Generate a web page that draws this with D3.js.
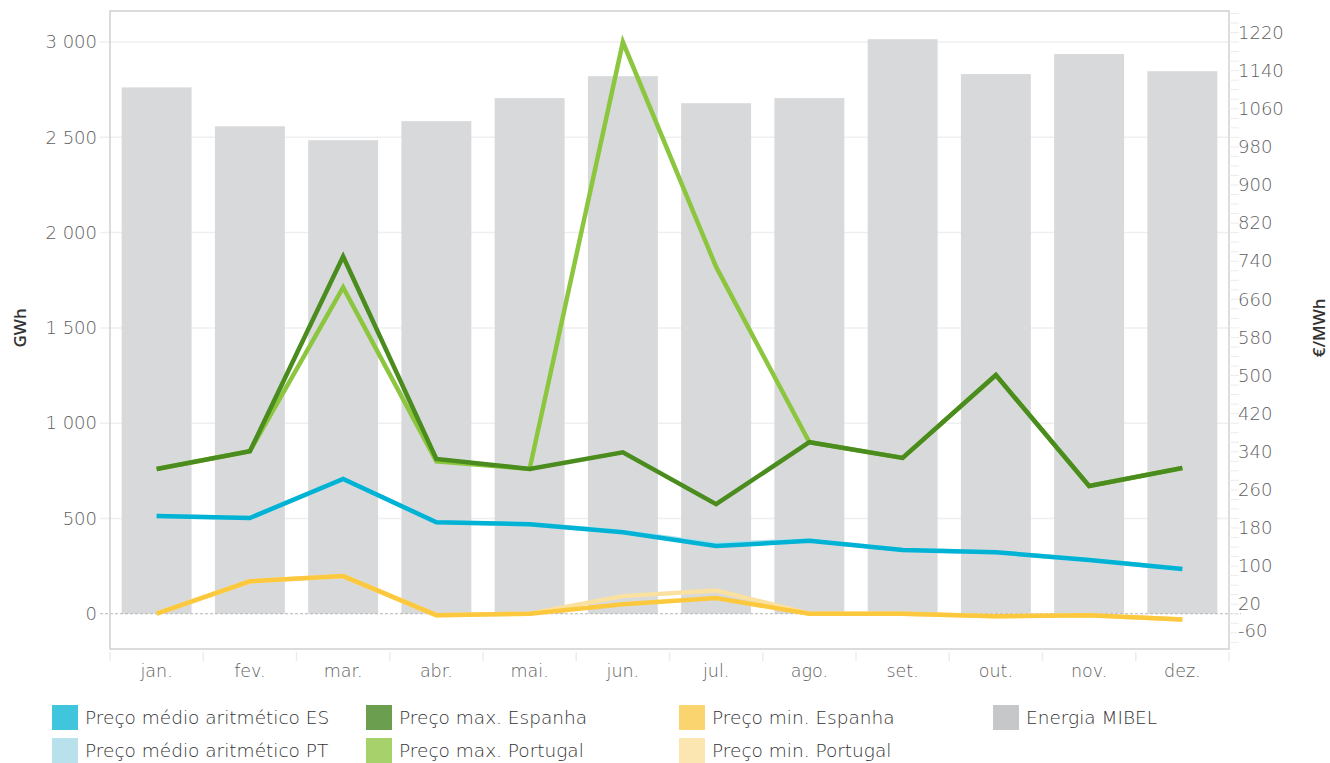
<!DOCTYPE html>
<html>
<head>
<meta charset="utf-8">
<script src="https://cdn.jsdelivr.net/npm/d3@7"></script>
<style>
  body { margin: 0; background: #fff; }
  svg text { font-family: "DejaVu Sans", sans-serif; }
</style>
</head>
<body>
<div id="chart"></div>
<script>
// months
const months = ["jan.", "fev.", "mar.", "abr.", "mai.", "jun.", "jul.", "ago.", "set.", "out.", "nov.", "dez."];

// GWh (left axis)
const energiaMibel = [2762, 2558, 2485, 2585, 2706, 2821, 2679, 2706, 3015, 2832, 2937, 2847];

// €/MWh (right axis)
const medioES = [205, 201, 283, 192, 188, 171, 142, 153, 134, 129, 113, 94];
const medioPT = [205, 201, 283, 192, 188, 172, 146, 154, 134, 129, 113, 94];
const maxES = [304, 341, 750, 325, 304, 339, 230, 360, 327, 501, 268, 306];
const maxPT = [304, 341, 685, 320, 304, 1200, 728, 360, 327, 501, 268, 306];
const minES = [0, 68, 79, -3, 0, 20, 33, 0, 0, -5, -3, -12];
const minPT = [0, 68, 79, -3, 0, 37, 49, 0, 0, -5, -3, -12];

const leftTicks = [0, 500, 1000, 1500, 2000, 2500, 3000];
const rightTicks = [-60, 20, 100, 180, 260, 340, 420, 500, 580, 660, 740, 820, 900, 980, 1060, 1140, 1220];

const width = 1330, height = 763;
const margin = {top: 11, right: 101, bottom: 114, left: 110};

const svg = d3.select("#chart").append("svg")
    .attr("width", width)
    .attr("height", height);

// scales
let x = d3.scaleBand().domain(months)
    .range([margin.left, width - margin.right])
    .paddingInner(0.25).paddingOuter(0.125);
let yL = d3.scaleLinear().domain([-185, 3163]).range([height - margin.bottom, margin.top]);
let yR = d3.scaleLinear().domain([-74, 1265.2]).range([height - margin.bottom, margin.top]);

const loc = d3.formatLocale({decimal: ",", thousands: " ", grouping: [3], currency: ["", ""]});
const fmtL = loc.format(",d");
const fmtR = d => (d < 0 ? "-" : "") + Math.abs(d);

// gridlines
svg.append("g")
  .selectAll("line")
  .data(leftTicks.filter(d => d !== 0))
  .enter().append("line")
    .attr("x1", margin.left - 10).attr("x2", width - margin.right)
    .attr("y1", d => yL(d)).attr("y2", d => yL(d))
    .attr("stroke", "#efefef").attr("stroke-width", 1.5);

// bars
svg.append("g")
  .selectAll("rect")
  .data(months)
  .enter().append("rect")
    .attr("x", d => x(d))
    .attr("width", x.bandwidth())
    .attr("y", (d, i) => yL(energiaMibel[i]))
    .attr("height", (d, i) => yL(0) - yL(energiaMibel[i]))
    .attr("fill", "#d8d9db");

// zero line
svg.append("line")
    .attr("x1", margin.left - 10).attr("x2", width - margin.right + 12)
    .attr("y1", yL(0)).attr("y2", yL(0))
    .attr("stroke", "#b5b5b5").attr("stroke-width", 1)
    .attr("stroke-dasharray", "3,2");

// frame
svg.append("rect")
    .attr("x", margin.left).attr("y", margin.top)
    .attr("width", width - margin.left - margin.right)
    .attr("height", height - margin.top - margin.bottom)
    .attr("fill", "none").attr("stroke", "#d0d0d0").attr("stroke-width", 1.5);

// x axis
let xAxis = svg.append("g")
    .attr("transform", "translate(0," + (height - margin.bottom + 3) + ")")
    .call(d3.axisBottom(x).tickSize(0).tickPadding(13));
xAxis.select(".domain").remove();
xAxis.selectAll("text")
    .attr("fill", "#5e5e5e").style("font-size", "17.5px").style("font-weight", "200");
// category separators below the axis
svg.append("g")
  .selectAll("line")
  .data(d3.range(months.length + 1))
  .enter().append("line")
    .attr("x1", i => margin.left + i * x.step()).attr("x2", i => margin.left + i * x.step())
    .attr("y1", height - margin.bottom + 3).attr("y2", height - margin.bottom + 12)
    .attr("stroke", "#ececec").attr("stroke-width", 1.5);

// left axis
let yAxisL = svg.append("g")
    .attr("transform", "translate(" + margin.left + ",0)")
    .call(d3.axisLeft(yL).tickValues(leftTicks).tickFormat(fmtL).tickSize(0).tickPadding(13));
yAxisL.select(".domain").remove();
yAxisL.selectAll("text").attr("fill", "#5e5e5e").style("font-size", "18px").style("font-weight", "200");

// right axis
let yAxisR = svg.append("g")
    .attr("transform", "translate(" + (width - margin.right) + ",0)")
    .call(d3.axisRight(yR).tickValues(rightTicks).tickFormat(fmtR).tickSize(0).tickPadding(9));
yAxisR.select(".domain").remove();
yAxisR.selectAll("text").attr("fill", "#5e5e5e").style("font-size", "18px").style("font-weight", "200")
    .attr("dy", d => d === -60 ? "-0.3em" : "0.32em");
// minor ticks
svg.append("g")
  .selectAll("line")
  .data(d3.range(-60, 1261, 20))
  .enter().append("line")
    .attr("x1", width - margin.right).attr("x2", width - margin.right + 10)
    .attr("y1", d => yR(d)).attr("y2", d => yR(d))
    .attr("stroke", "#ececec").attr("stroke-width", 1);

// axis titles
svg.append("text")
    .attr("transform", "translate(26," + yL(1500) + ") rotate(-90)")
    .attr("text-anchor", "middle")
    .attr("fill", "#333").style("font-size", "17px").style("font-weight", "600")
    .style("font-family", "'Open Sans', sans-serif")
    .text("GWh");
svg.append("text")
    .attr("transform", "translate(1325," + yL(1500) + ") rotate(-90)")
    .attr("text-anchor", "middle")
    .attr("fill", "#333").style("font-size", "17px").style("font-weight", "600")
    .style("font-family", "'Open Sans', sans-serif")
    .text("€/MWh");

// lines
const series = [
    {name: "Preço min. Portugal", values: minPT, color: "#fae1a0"},
    {name: "Preço min. Espanha", values: minES, color: "#fcc93e"},
    {name: "Preço médio aritmético PT", values: medioPT, color: "#b2dfea"},
    {name: "Preço médio aritmético ES", values: medioES, color: "#00b3d4"},
    {name: "Preço max. Portugal", values: maxPT, color: "#8cc63f"},
    {name: "Preço max. Espanha", values: maxES, color: "#4a8c1d"}
];
let line = d3.line()
    .x((d, i) => x(months[i]) + x.bandwidth() / 2)
    .y(d => yR(d));
svg.append("g")
  .selectAll("path")
  .data(series)
  .enter().append("path")
    .attr("d", d => line(d.values))
    .attr("fill", "none")
    .attr("stroke", d => d.color)
    .attr("stroke-width", 4.5)
    .attr("stroke-linejoin", "miter");

// legend
const legendItems = [
    {label: "Preço médio aritmético ES", color: "#3fc5dc", col: 0, row: 0},
    {label: "Preço médio aritmético PT", color: "#b9e1eb", col: 0, row: 1},
    {label: "Preço max. Espanha", color: "#6b9e4f", col: 1, row: 0},
    {label: "Preço max. Portugal", color: "#a7d16b", col: 1, row: 1},
    {label: "Preço min. Espanha", color: "#fad46e", col: 2, row: 0},
    {label: "Preço min. Portugal", color: "#fbe5b0", col: 2, row: 1},
    {label: "Energia MIBEL", color: "#c6c7c9", col: 3, row: 0}
];
const colX = [52, 366, 679, 993];
let lg = svg.append("g")
  .selectAll("g")
  .data(legendItems)
  .enter().append("g")
    .attr("transform", d => "translate(" + colX[d.col] + "," + (705 + d.row * 33) + ")");
lg.append("rect").attr("width", 26).attr("height", 25).attr("fill", d => d.color);
lg.append("text")
    .attr("x", 33).attr("y", 19)
    .attr("fill", "#333").style("font-size", "18.5px").style("font-weight", "200")
    .text(d => d.label);
</script>
</body>
</html>
